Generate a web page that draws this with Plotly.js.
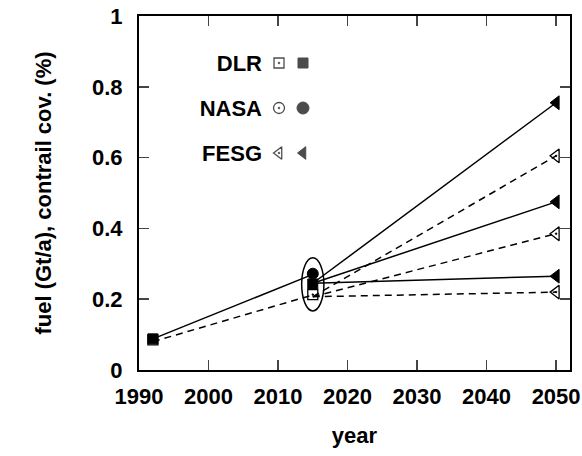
<!DOCTYPE html>
<html>
<head>
<meta charset="utf-8">
<script src="https://cdn.plot.ly/plotly-3.0.1.min.js"></script>
<style>html,body{margin:0;padding:0;background:#fff;}#chart{width:582px;height:456px;}</style>
</head>
<body>
<div id="chart"></div>
<script>
// ---- data ----
const years = [1992, 2015, 2050];
const fuelBase = [0.088, 0.27];           // solid line 1992 -> 2015
const coverBase = [0.08, 0.212];          // dashed line 1992 -> 2015
const fuelFanStart = 0.245;               // solid fan origin (2015)
const coverFanStart = 0.207;              // dashed fan origin (2015)
const fesgFuel2050 = [0.755, 0.475, 0.265];
const fesgCover2050 = [0.605, 0.385, 0.22];
const dlrYears = [1992, 2015];
const dlrFuel = [0.088, 0.243];
const dlrCover = [0.085, 0.213];
const nasaYears = [2015];
const nasaFuel = [0.272];
const legendNames = ['DLR', 'NASA', 'FESG'];
const legendKinds = ['open', 'filled'];
const xTicks = [1990, 2000, 2010, 2020, 2030, 2040, 2050];
const yTicks = [0, 0.2, 0.4, 0.6, 0.8, 1];
const yTickText = ['0', '0.2', '0.4', '0.6', '0.8', '1'];

const FONT = 'Liberation Sans, Arial, Helvetica, sans-serif';
const traces = [];

const solid = {color: '#000', width: 1.5};
const dashed = {color: '#000', width: 1.5, dash: '7px,5px'};

// 1992 -> 2015 lines
traces.push({x: years.slice(0, 2), y: fuelBase, mode: 'lines', line: solid, hoverinfo: 'skip', showlegend: false});
traces.push({x: years.slice(0, 2), y: coverBase, mode: 'lines', line: dashed, hoverinfo: 'skip', showlegend: false});
// 2015 -> 2050 fans
fesgFuel2050.forEach(v => {
  traces.push({x: years.slice(1), y: [fuelFanStart, v], mode: 'lines', line: solid, hoverinfo: 'skip', showlegend: false});
});
fesgCover2050.forEach(v => {
  traces.push({x: years.slice(1), y: [coverFanStart, v], mode: 'lines', line: dashed, hoverinfo: 'skip', showlegend: false});
});

const openMk = (sym, size) => ({symbol: sym, size: size, color: '#000', line: {color: '#000', width: 1.3}});
const fillMk = (sym, size) => ({symbol: sym, size: size, color: '#000', line: {color: '#000', width: 1}});

traces.push({x: dlrYears, y: dlrCover, mode: 'markers', marker: openMk('square-open-dot', 10), showlegend: false});
traces.push({x: dlrYears, y: dlrFuel, mode: 'markers', marker: fillMk('square', 10), showlegend: false});
traces.push({x: nasaYears, y: nasaFuel, mode: 'markers', marker: fillMk('circle', 11), showlegend: false});
traces.push({x: fesgCover2050.map(() => years[2]), y: fesgCover2050, mode: 'markers', marker: openMk('triangle-left-open-dot', 12), showlegend: false});
traces.push({x: fesgFuel2050.map(() => years[2]), y: fesgFuel2050, mode: 'markers', marker: fillMk('triangle-left', 12), showlegend: false});

// legend (second, invisible x axis; y tick labels give the names)
const openSyms = ['square-open-dot', 'circle-open-dot', 'triangle-left-open-dot'];
const fillSyms = ['square', 'circle', 'triangle-left'];
traces.push({x: legendNames.map(() => legendKinds[0]), y: legendNames, xaxis: 'x2', yaxis: 'y2', mode: 'markers',
  marker: {symbol: openSyms, size: [10, 11, 11], color: '#000', line: {color: '#000', width: 1.3}}, showlegend: false, hoverinfo: 'skip'});
traces.push({x: legendNames.map(() => legendKinds[1]), y: legendNames, xaxis: 'x2', yaxis: 'y2', mode: 'markers',
  marker: {symbol: fillSyms, size: [10, 12, 11], color: '#000', line: {color: '#000', width: 1}}, showlegend: false, hoverinfo: 'skip'});

// cluster ellipse around 2015 values
const cluster = [fuelBase[1], coverBase[1], dlrFuel[1], dlrCover[1], nasaFuel[0]];
const cMin = Math.min(...cluster), cMax = Math.max(...cluster);

const W = 582, H = 456, ml = 139, mr = 12, mt = 16, mb = 86;
const pw = W - ml - mr, ph = H - mt - mb;
const px = p => (p - ml) / pw, py = p => (H - mb - p) / ph;

const layout = {
  width: W, height: H,
  margin: {l: ml, r: mr, t: mt, b: mb, pad: 0},
  paper_bgcolor: '#fff', plot_bgcolor: '#fff',
  showlegend: false,
  font: {family: FONT, color: '#000'},
  xaxis: {
    range: [1990, 2052], tickvals: xTicks, ticks: 'inside', ticklen: 10, tickwidth: 1.5,
    showline: true, linewidth: 2, linecolor: '#000', mirror: 'allticks', showgrid: false, zeroline: false,
    tickfont: {size: 22, family: FONT, weight: 'bold'}, ticklabelstandoff: 6,
    title: {text: 'year', font: {size: 22, family: FONT, weight: 'bold'}, standoff: 19}
  },
  yaxis: {
    range: [0, 1], tickvals: yTicks, ticktext: yTickText, ticks: 'inside', ticklen: 10, tickwidth: 1.5,
    showline: true, linewidth: 2, linecolor: '#000', mirror: 'allticks', showgrid: false, zeroline: false,
    tickfont: {size: 22, family: FONT, weight: 'bold'}, ticklabelstandoff: 10,
    title: {text: 'fuel (Gt/a), contrail cov. (%)', font: {size: 22, family: FONT, weight: 'bold'}, standoff: 34}
  },
  xaxis2: {domain: [px(267), px(315)], anchor: 'y2', type: 'category', categoryorder: 'array',
    categoryarray: legendKinds, range: [-0.5, 1.5], visible: false, fixedrange: true},
  yaxis2: {domain: [py(175.5), py(40.5)], anchor: 'x2', type: 'category', categoryorder: 'array',
    categoryarray: legendNames.slice().reverse(), range: [-0.5, 2.5], showline: false, showgrid: false,
    zeroline: false, ticks: '', ticklabelstandoff: 4,
    tickfont: {size: 22, family: FONT, weight: 'bold'}, fixedrange: true},
  shapes: [{
    type: 'circle', xref: 'x', yref: 'y',
    x0: years[1] - 1.6, x1: years[1] + 1.6, y0: cMin - 0.045, y1: cMax + 0.045,
    line: {color: '#000', width: 1.5}, fillcolor: 'rgba(0,0,0,0)'
  }]
};

Plotly.newPlot('chart', traces, layout, {displayModeBar: false, staticPlot: true});
</script>
</body>
</html>
